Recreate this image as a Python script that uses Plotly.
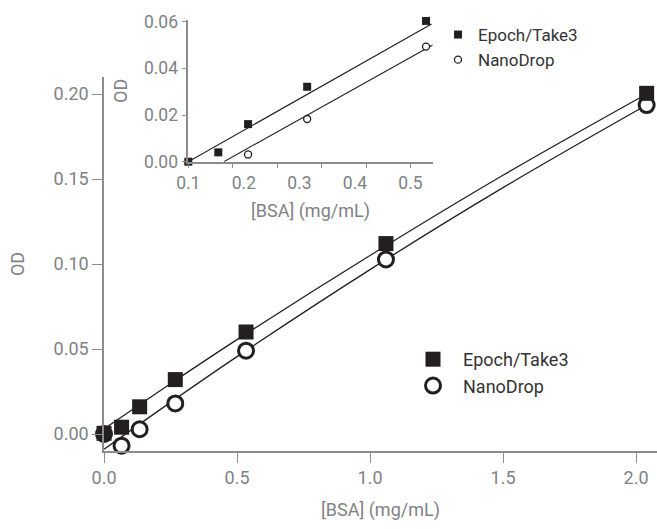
import plotly.graph_objects as go

# ---------------- data ----------------
bsa = [0.0, 0.066, 0.134, 0.268, 0.534, 1.06, 2.04]
od_epoch = [0.0004, 0.004, 0.016, 0.032, 0.060, 0.112, 0.2004]
od_nano = [0.0, -0.0069, 0.0028, 0.018, 0.049, 0.1027, 0.1935]

fit_x = [0.0, 0.25, 0.5, 1.0, 1.5, 2.04]
fit_epoch = [0.003, 0.0296, 0.0555, 0.105, 0.1522, 0.200]
fit_nano = [-0.009, 0.0186, 0.0455, 0.0967, 0.1449, 0.1935]

# inset (its own displayed axis)
in_x_epoch = [0.1, 0.154, 0.2076, 0.314, 0.528]
in_y_epoch = [0.0, 0.004, 0.0161, 0.0321, 0.0603]
in_x_nano = [0.2076, 0.314, 0.528]
in_y_nano = [0.0031, 0.0183, 0.0493]
in_fit_x_epoch = [0.1, 0.538]
in_fit_y_epoch = [0.0, 0.059]
in_fit_x_nano = [0.164, 0.54]
in_fit_y_nano = [0.0, 0.050]

main_yticks = [0.0, 0.05, 0.10, 0.15, 0.20]
main_xticks = [0.0, 0.5, 1.0, 1.5, 2.0]
inset_xticks = [0.1, 0.2, 0.3, 0.4, 0.5]
inset_yticks = [0.0, 0.02, 0.04, 0.06]

INK = "#231f20"
AX = "#8a8c8e"
TXT = "#808285"
FONT = "Roboto"

fig = go.Figure()

# main fit lines
fig.add_trace(go.Scatter(x=fit_x, y=fit_epoch, mode="lines", line=dict(color=INK, width=1.3, shape="spline"),
                         showlegend=False, hoverinfo="skip", cliponaxis=False))
fig.add_trace(go.Scatter(x=fit_x, y=fit_nano, mode="lines", line=dict(color=INK, width=1.3, shape="spline"),
                         showlegend=False, hoverinfo="skip", cliponaxis=False))
# main markers
fig.add_trace(go.Scatter(x=bsa, y=od_nano, mode="markers", name="NanoDrop",
                         marker=dict(symbol="circle", size=15, color="white", line=dict(color=INK, width=3)),
                         legend="legend", legendgroup="b", legendrank=2, cliponaxis=False))
fig.add_trace(go.Scatter(x=bsa, y=od_epoch, mode="markers", name="Epoch/Take3",
                         marker=dict(symbol="square", size=15, color=INK, line=dict(width=0)),
                         legend="legend", legendgroup="a", legendrank=1, cliponaxis=False))

# inset
fig.add_trace(go.Scatter(x=in_fit_x_epoch, y=in_fit_y_epoch, mode="lines", line=dict(color=INK, width=1.1),
                         xaxis="x2", yaxis="y2", showlegend=False, hoverinfo="skip", cliponaxis=False))
fig.add_trace(go.Scatter(x=in_fit_x_nano, y=in_fit_y_nano, mode="lines", line=dict(color=INK, width=1.1),
                         xaxis="x2", yaxis="y2", showlegend=False, hoverinfo="skip", cliponaxis=False))
fig.add_trace(go.Scatter(x=in_x_epoch, y=in_y_epoch, mode="markers", name="Epoch/Take3",
                         marker=dict(symbol="square", size=8, color=INK, line=dict(width=0)),
                         xaxis="x2", yaxis="y2", legend="legend2", legendgroup="c", legendrank=1, cliponaxis=False))
fig.add_trace(go.Scatter(x=in_x_nano, y=in_y_nano, mode="markers", name="NanoDrop",
                         marker=dict(symbol="circle", size=7, color="white", line=dict(color=INK, width=1.3)),
                         xaxis="x2", yaxis="y2", legend="legend2", legendgroup="d", legendrank=2, cliponaxis=False))

W, H = 657, 529
L, R, T, B = 104, 0, 15, 78
ph = H - T - B  # 436
main_top = (451 - 77) / ph

axis_common = dict(showline=True, linecolor=AX, linewidth=1.5, ticks="outside", tickcolor=AX,
                   showgrid=False, zeroline=False, tickfont=dict(family=FONT, size=18, color=TXT))

fig.update_layout(
    width=W, height=H,
    margin=dict(l=L, r=R, t=T, b=B),
    paper_bgcolor="white", plot_bgcolor="white",
    font=dict(family=FONT, color=TXT),
    xaxis=dict(axis_common, domain=[0, 1], range=[0, (657 - 104) / 266], tickvals=main_xticks,
               tickformat=".1f", ticklen=10, title=dict(text="[BSA] (mg/mL)", standoff=16,
               font=dict(family=FONT, size=18, color=TXT))),
    yaxis=dict(axis_common, domain=[0, main_top], range=[-0.01, 0.21], tickvals=main_yticks,
               tickformat=".2f", ticklen=10, title=dict(text="OD", standoff=24,
               font=dict(family=FONT, size=18, color=TXT))),
    xaxis2=dict(axis_common, anchor="y2", domain=[(188.3 - 104) / 553, (432.7 - 104) / 553],
                range=[0.1, 0.54], tickvals=inset_xticks, tickformat=".1f", ticklen=0,
                ticklabelstandoff=5,
                tickfont=dict(family=FONT, size=17.5, color=TXT),
                minor=dict(ticks="outside", tick0=0.1, dtick=0.08, ticklen=5, tickcolor=AX),
                title=dict(text="[BSA] (mg/mL)", standoff=12, font=dict(family=FONT, size=18, color=TXT))),
    yaxis2=dict(axis_common, anchor="x2", domain=[(451 - 161.7) / ph, (451 - 20) / ph],
                range=[0, 0.0607], tickvals=inset_yticks, tickformat=".2f", ticklen=5,
                tickfont=dict(family=FONT, size=17.5, color=TXT),
                title=dict(text="OD", standoff=12, font=dict(family=FONT, size=18, color=TXT))),
    legend=dict(x=(403 - 104) / 553, y=(451 - 341) / ph, xanchor="left", yanchor="top",
                itemwidth=50, traceorder="grouped", tracegroupgap=0, bgcolor="rgba(0,0,0,0)",
                font=dict(family=FONT, size=18, color="#333333")),
    legend2=dict(x=(438 - 104) / 553, y=(451 - 17) / ph, xanchor="left", yanchor="top",
                 itemwidth=30, traceorder="grouped", tracegroupgap=0, bgcolor="rgba(0,0,0,0)",
                 font=dict(family=FONT, size=17, color="#333333")),
)

fig.write_html("out.html", config={"displayModeBar": False},
               post_script="document.body.style.margin='0px';")
